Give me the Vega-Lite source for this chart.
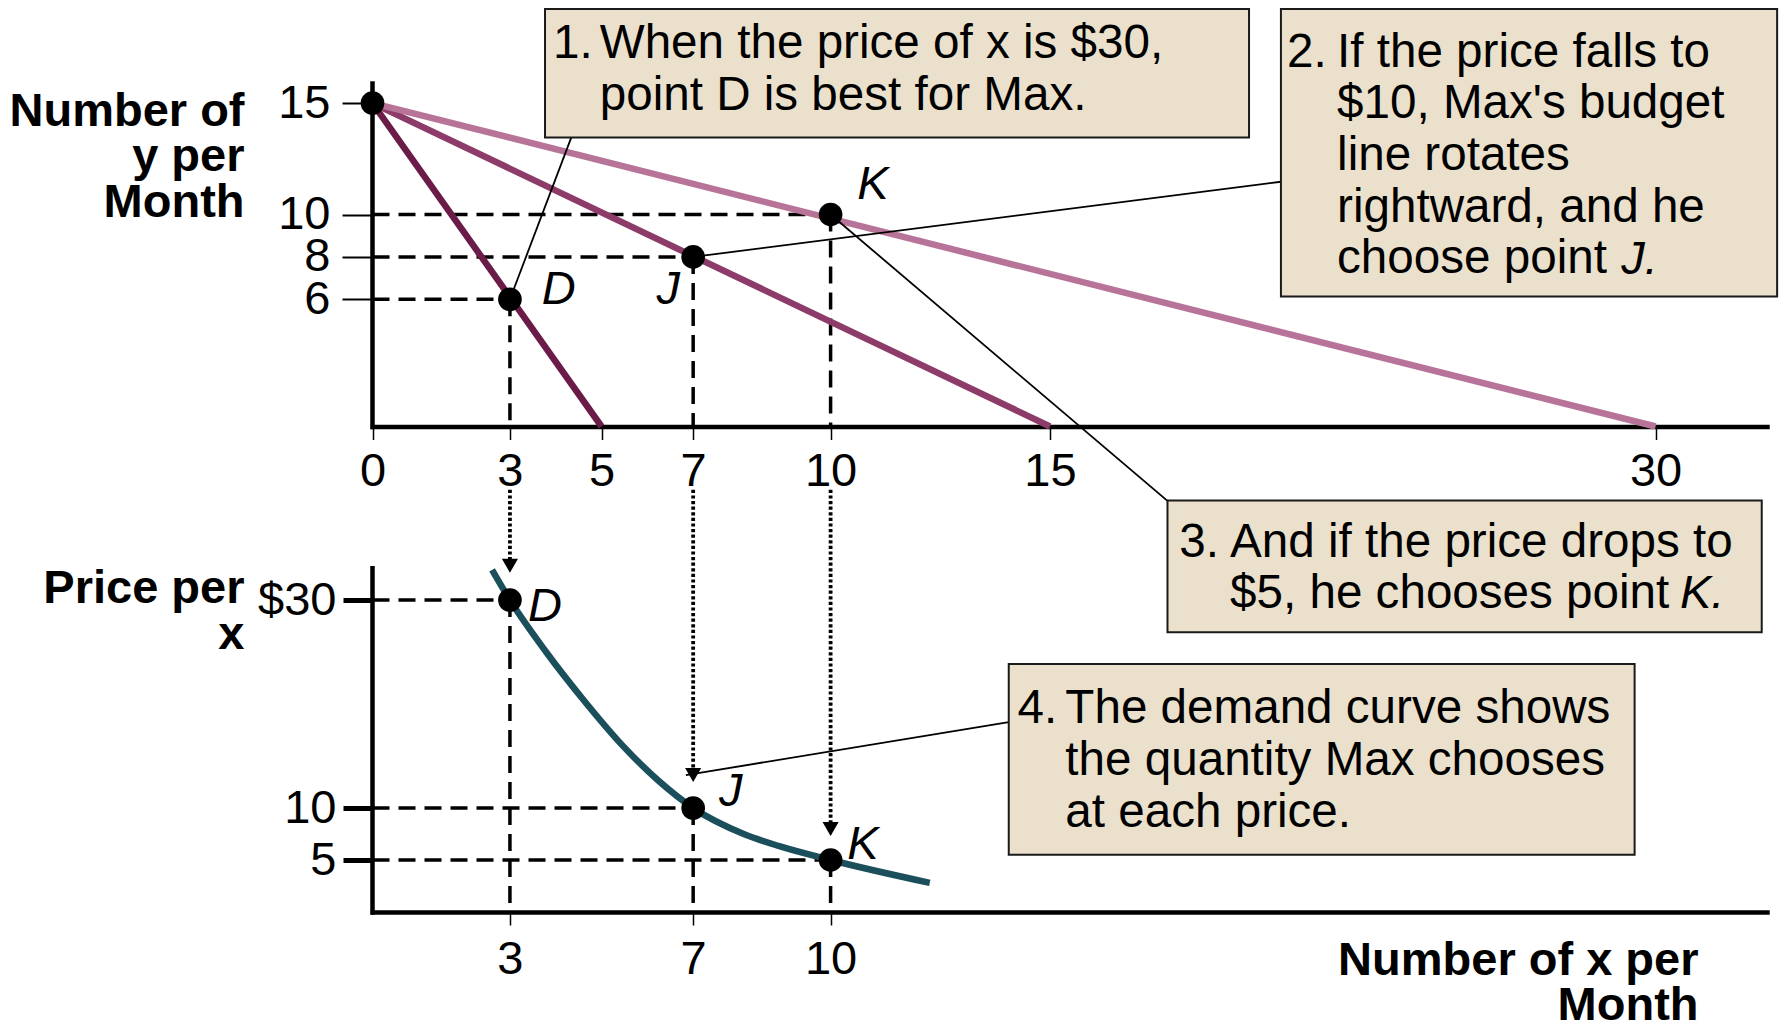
{
  "$schema": "https://vega.github.io/schema/vega-lite/v6.json",
  "width": 1409,
  "height": 912,
  "autosize": {"type": "none"},
  "padding": {"left": 372, "top": 0, "right": 0, "bottom": 112},
  "background": "white",
  "config": {
    "view": {"stroke": null},
    "font": "Liberation Sans",
    "axis": {"grid": false, "domainColor": "black", "domainWidth": 4.5, "domainCap": "square", "tickColor": "black", "labelColor": "black", "titleColor": "black", "labelFont": "Liberation Sans", "titleFont": "Liberation Sans", "labelFontSize": 47, "titleFontSize": 47, "titleFontWeight": "bold", "labelFlush": false, "labelOverlap": false, "labelBound": false, "titlePadding": 0}
  },
  "datasets": {
    "budget": [
      {"x": 0, "y": 15, "x2": 5, "y2": 0, "price": "$30"},
      {"x": 0, "y": 15, "x2": 15, "y2": 0, "price": "$10"},
      {"x": 0, "y": 15, "x2": 30, "y2": 0, "price": "$5"}
    ],
    "topGuides": [
      {"x": 0, "y": 10, "x2": 10, "y2": 10},
      {"x": 0, "y": 8, "x2": 7, "y2": 8},
      {"x": 0, "y": 6, "x2": 3, "y2": 6},
      {"x": 10, "y": 10, "x2": 10, "y2": 0},
      {"x": 7, "y": 8, "x2": 7, "y2": 0},
      {"x": 3, "y": 6, "x2": 3, "y2": 0}
    ],
    "topCallouts": [
      {"x": 4.34, "y": 13.46, "x2": 3, "y2": 6},
      {"x": 20.72, "y": 11.47, "x2": 7, "y2": 8},
      {"x": 10, "y": 10, "x2": 17.91, "y2": -3.51}
    ],
    "topPoints": [
      {"x": 0, "y": 15, "name": "start"},
      {"x": 3, "y": 6, "name": "D"},
      {"x": 7, "y": 8, "name": "J"},
      {"x": 10, "y": 10, "name": "K"}
    ],
    "topItalic": [
      {"x": 3.696, "y": 5.76, "text": "D"},
      {"x": 6.2, "y": 5.76, "text": "J"},
      {"x": 10.61, "y": 10.7, "text": "K"},
      {"x": 29.15, "y": 7.19, "text": "J."}
    ],
    "topBoxes": [
      {"x": 3.766, "x2": 19.93, "y": 19.22, "y2": 13.46},
      {"x": 20.72, "x2": 33.0, "y": 19.22, "y2": 6.13}
    ],
    "topNotes": [
      {"x": 3.94, "y": 17.0, "text": "1."},
      {"x": 4.96, "y": 17.0, "text": "When the price of x is $30,\npoint D is best for Max."},
      {"x": 20.87, "y": 16.64, "text": "2."},
      {"x": 22.11, "y": 16.64, "text": "If the price falls to\n$10, Max's budget\nline rotates\nrightward, and he\nchoose point"}
    ],
    "bottomGuides": [
      {"x": 0, "y": 30, "x2": 3, "y2": 30},
      {"x": 0, "y": 10, "x2": 7, "y2": 10},
      {"x": 0, "y": 5, "x2": 10, "y2": 5},
      {"x": 3, "y": 30, "x2": 3, "y2": 0},
      {"x": 7, "y": 10, "x2": 7, "y2": 0},
      {"x": 10, "y": 5, "x2": 10, "y2": 0}
    ],
    "arrows": [
      {"x": 3, "y": 40.6, "x2": 3, "y2": 33.5},
      {"x": 7, "y": 40.6, "x2": 7, "y2": 13.4},
      {"x": 10, "y": 40.6, "x2": 10, "y2": 8.2}
    ],
    "arrowHeads": [
      {"x": 3, "y": 33.3},
      {"x": 7, "y": 13.17},
      {"x": 10, "y": 7.98}
    ],
    "demand": [
      {"x": 2.61, "y": 32.9},
      {"x": 3, "y": 30},
      {"x": 3.79, "y": 25.0},
      {"x": 4.66, "y": 20.1},
      {"x": 5.46, "y": 16.0},
      {"x": 6.25, "y": 12.6},
      {"x": 7, "y": 10},
      {"x": 8.13, "y": 7.45},
      {"x": 8.88, "y": 6.33},
      {"x": 10, "y": 5},
      {"x": 12.26, "y": 2.8}
    ],
    "bottomCallouts": [
      {"x": 14.06, "y": 18.26, "x2": 6.84, "y2": 13.17}
    ],
    "bottomPoints": [
      {"x": 3, "y": 30, "name": "D"},
      {"x": 7, "y": 10, "name": "J"},
      {"x": 10, "y": 5, "name": "K"}
    ],
    "bottomItalic": [
      {"x": 3.395, "y": 28.0, "text": "D"},
      {"x": 7.564, "y": 10.2, "text": "J"},
      {"x": 10.38, "y": 5.07, "text": "K"},
      {"x": 30.6, "y": 29.2, "text": "K."}
    ],
    "bottomBoxes": [
      {"x": 17.91, "x2": 32.62, "y": 39.57, "y2": 26.91},
      {"x": 14.06, "x2": 29.48, "y": 23.86, "y2": 5.5}
    ],
    "bottomNotes": [
      {"x": 18.2, "y": 34.18, "text": "3."},
      {"x": 19.46, "y": 34.18, "text": "And if the price drops to\n$5, he chooses point"},
      {"x": 14.26, "y": 18.13, "text": "4."},
      {"x": 15.38, "y": 18.13, "text": "The demand curve shows\nthe quantity Max chooses\nat each price."}
    ]
  },
  "layer": [
    {
      "encoding": {
        "x": {
          "field": "x", "type": "quantitative",
          "scale": {"type": "linear", "domain": [0, 10, 15, 30, 32.75], "range": [0.5, 458.6, 678, 1283.6, 1395], "nice": false, "zero": false},
          "axis": {"orient": "bottom", "offset": -485.5, "values": [0, 3, 5, 7, 10, 15, 30], "format": "d", "title": null, "tickSize": 13, "tickWidth": 1.5, "labelPadding": 9}
        },
        "y": {
          "field": "y", "type": "quantitative",
          "scale": {"type": "linear", "domain": [0, 10, 15.9], "range": [426.5, 214.5, 83], "nice": false, "zero": false},
          "axis": {"orient": "left", "values": [6, 8, 10, 15], "format": "d", "title": ["Number of", "y per", "Month"], "titleAngle": 0, "titleAlign": "right", "titleBaseline": "alphabetic", "titleX": -128, "titleY": 125, "titleLineHeight": 45.5, "tickSize": 30, "tickWidth": 2, "labelPadding": 12, "labelBaseline": "middle"}
        }
      },
      "layer": [
        {
          "data": {"name": "topGuides"},
          "mark": {"type": "rule", "color": "black", "strokeWidth": 3.5, "strokeDash": [17, 9]},
          "encoding": {"x2": {"field": "x2"}, "y2": {"field": "y2"}}
        },
        {
          "data": {"name": "budget"},
          "mark": {"type": "rule", "strokeWidth": 6.5, "strokeCap": "butt"},
          "encoding": {
            "x2": {"field": "x2"}, "y2": {"field": "y2"},
            "color": {"field": "price", "type": "nominal", "scale": {"domain": ["$30", "$10", "$5"], "range": ["#6b1b47", "#8d3b69", "#b87399"]}, "legend": null}
          }
        },
        {
          "data": {"name": "topCallouts"},
          "mark": {"type": "rule", "color": "black", "strokeWidth": 1.8},
          "encoding": {"x2": {"field": "x2"}, "y2": {"field": "y2"}}
        },
        {
          "data": {"name": "topBoxes"},
          "mark": {"type": "rect", "fill": "#ebe0cb", "stroke": "#1a1a1a", "strokeWidth": 2},
          "encoding": {"x2": {"field": "x2"}, "y2": {"field": "y2"}}
        },
        {
          "data": {"name": "topNotes"},
          "mark": {"type": "text", "align": "left", "baseline": "alphabetic", "fontSize": 47.6, "lineHeight": 51.7, "lineBreak": "\n", "color": "black"},
          "encoding": {"text": {"field": "text", "type": "nominal"}}
        },
        {
          "data": {"name": "topPoints"},
          "mark": {"type": "circle", "size": 560, "color": "black", "opacity": 1},
          "encoding": {}
        },
        {
          "data": {"name": "topItalic"},
          "mark": {"type": "text", "align": "left", "baseline": "alphabetic", "fontSize": 47, "fontStyle": "italic", "color": "black"},
          "encoding": {"text": {"field": "text", "type": "nominal"}}
        }
      ]
    },
    {
      "encoding": {
        "x": {
          "field": "x", "type": "quantitative",
          "scale": {"type": "linear", "domain": [0, 10, 15, 30, 32.75], "range": [0.5, 458.6, 678, 1283.6, 1395], "nice": false, "zero": false},
          "axis": {"orient": "bottom", "offset": 0, "values": [3, 7, 10], "format": "d", "title": ["Number of x per", "Month"], "titleAngle": 0, "titleAlign": "right", "titleBaseline": "alphabetic", "titleX": 1326, "titleY": 62, "titleLineHeight": 45, "tickSize": 13, "tickWidth": 1.5, "labelPadding": 11}
        },
        "y": {
          "field": "y", "type": "quantitative",
          "scale": {"type": "linear", "domain": [0, 33.1], "range": [912, 567.8], "nice": false, "zero": false},
          "axis": {"orient": "left", "values": [5, 10, 30], "format": "d", "labelExpr": "datum.value == 30 ? '$30' : datum.label", "title": ["Price per", "x"], "titleAngle": 0, "titleAlign": "right", "titleBaseline": "alphabetic", "titleX": -128, "titleY": 602, "titleLineHeight": 46, "tickSize": 29, "tickWidth": 5, "labelPadding": 7, "labelBaseline": "middle"}
        }
      },
      "layer": [
        {
          "data": {"name": "bottomGuides"},
          "mark": {"type": "rule", "color": "black", "strokeWidth": 3.5, "strokeDash": [17, 9]},
          "encoding": {"x2": {"field": "x2"}, "y2": {"field": "y2"}}
        },
        {
          "data": {"name": "arrows"},
          "mark": {"type": "rule", "color": "black", "strokeWidth": 3.8, "strokeDash": [3.2, 2.4]},
          "encoding": {"x2": {"field": "x2"}, "y2": {"field": "y2"}}
        },
        {
          "data": {"name": "arrowHeads"},
          "mark": {"type": "point", "shape": "triangle-down", "filled": true, "color": "black", "size": 260, "opacity": 1},
          "encoding": {}
        },
        {
          "data": {"name": "demand"},
          "mark": {"type": "line", "interpolate": "monotone", "color": "#1b4f5b", "strokeWidth": 6.5, "strokeCap": "butt"},
          "encoding": {}
        },
        {
          "data": {"name": "bottomCallouts"},
          "mark": {"type": "rule", "color": "black", "strokeWidth": 1.8},
          "encoding": {"x2": {"field": "x2"}, "y2": {"field": "y2"}}
        },
        {
          "data": {"name": "bottomBoxes"},
          "mark": {"type": "rect", "fill": "#ebe0cb", "stroke": "#1a1a1a", "strokeWidth": 2},
          "encoding": {"x2": {"field": "x2"}, "y2": {"field": "y2"}}
        },
        {
          "data": {"name": "bottomNotes"},
          "mark": {"type": "text", "align": "left", "baseline": "alphabetic", "fontSize": 47.6, "lineHeight": 51.7, "lineBreak": "\n", "color": "black"},
          "encoding": {"text": {"field": "text", "type": "nominal"}}
        },
        {
          "data": {"name": "bottomPoints"},
          "mark": {"type": "circle", "size": 560, "color": "black", "opacity": 1},
          "encoding": {}
        },
        {
          "data": {"name": "bottomItalic"},
          "mark": {"type": "text", "align": "left", "baseline": "alphabetic", "fontSize": 47, "fontStyle": "italic", "color": "black"},
          "encoding": {"text": {"field": "text", "type": "nominal"}}
        }
      ]
    }
  ],
  "resolve": {"scale": {"x": "independent", "y": "independent"}, "axis": {"x": "independent", "y": "independent"}}
}
